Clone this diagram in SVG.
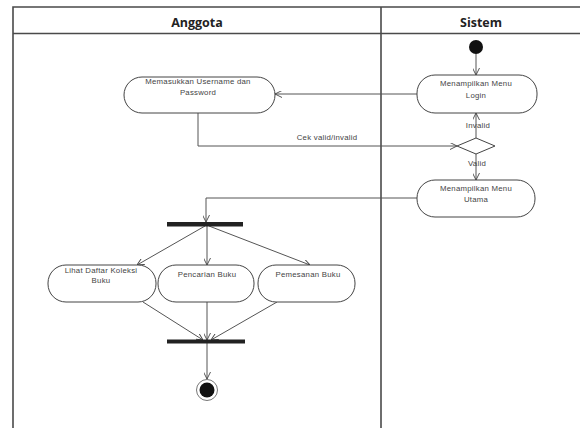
<svg xmlns="http://www.w3.org/2000/svg" width="580" height="428" viewBox="0 0 580 428">
<defs>
<style>
.frame{fill:none;stroke:#4a4a4a;stroke-width:1.6}
.hdr{font-family:"Open Sans","Liberation Sans",sans-serif;font-weight:bold;font-size:12.5px;fill:#222;text-anchor:middle}
.node{fill:#fff;stroke:#444;stroke-width:1}
.lbl{font-family:"Liberation Sans",Arial,sans-serif;font-size:7.8px;letter-spacing:0.25px;fill:#444;text-anchor:middle}
.edge{fill:none;stroke:#555;stroke-width:1}
.bar{fill:#222}
</style>
<marker id="arr" viewBox="0 0 10 10" refX="10" refY="5" markerWidth="7" markerHeight="7" orient="auto" markerUnits="userSpaceOnUse">
<path d="M0,0 L10,5 L0,10" fill="none" stroke="#444" stroke-width="1.3"/>
</marker>
</defs>
<rect width="580" height="428" fill="#fff"/>
<g id="swimlanes">
<path class="frame" d="M13,430 V7 H585"/>
<line class="frame" x1="13" y1="33.5" x2="585" y2="33.5"/>
<line class="frame" x1="381" y1="7" x2="381" y2="430"/>
<text class="hdr" x="197" y="27">Anggota</text>
<text class="hdr" x="481" y="27">Sistem</text>
</g>
<g id="connectors">
<line class="edge" x1="476" y1="54" x2="476" y2="75" marker-end="url(#arr)"/>
<line class="edge" x1="417" y1="94" x2="275" y2="94" marker-end="url(#arr)"/>
<polyline class="edge" points="198,113 198,146 457,146" marker-end="url(#arr)"/>
<line class="edge" x1="476" y1="138" x2="476" y2="113" marker-end="url(#arr)"/>
<line class="edge" x1="476" y1="154" x2="476" y2="180" marker-end="url(#arr)"/>
<polyline class="edge" points="417,198 206,198 206,222" marker-end="url(#arr)"/>
<line class="edge" x1="205" y1="226" x2="137" y2="265" marker-end="url(#arr)"/>
<line class="edge" x1="207" y1="226" x2="207" y2="265" marker-end="url(#arr)"/>
<line class="edge" x1="209" y1="226" x2="310" y2="265" marker-end="url(#arr)"/>
<line class="edge" x1="143" y1="302" x2="203" y2="340" marker-end="url(#arr)"/>
<line class="edge" x1="207" y1="302" x2="207" y2="340" marker-end="url(#arr)"/>
<line class="edge" x1="277" y1="302" x2="211" y2="340" marker-end="url(#arr)"/>
<line class="edge" x1="207" y1="343" x2="207" y2="379" marker-end="url(#arr)"/>
<text class="lbl" x="327" y="139.5">Cek valid/invalid</text>
<text class="lbl" x="478" y="127.5">Invalid</text>
<text class="lbl" x="477" y="165.5">Valid</text>
</g>
<g id="start"><circle cx="476" cy="47" r="7" fill="#111"/></g>
<g id="login">
<rect class="node" x="417" y="75" width="120" height="38" rx="18" ry="18"/>
<text class="lbl" x="476" y="86">Menampilkan Menu</text>
<text class="lbl" x="476" y="97.5">Login</text>
</g>
<g id="username">
<rect class="node" x="124" y="77" width="151" height="36" rx="18" ry="18"/>
<text class="lbl" x="198" y="84">Memasukkan Username dan</text>
<text class="lbl" x="198" y="95">Password</text>
</g>
<g id="decision">
<polygon class="node" points="457,146 476,138 495,146 476,154"/>
</g>
<g id="utama">
<rect class="node" x="417" y="180" width="118" height="37" rx="18" ry="18"/>
<text class="lbl" x="476" y="190.5">Menampilkan Menu</text>
<text class="lbl" x="476" y="201.5">Utama</text>
</g>
<g id="fork"><rect class="bar" x="167" y="222" width="76" height="4.5"/></g>
<g id="lihat">
<rect class="node" x="48" y="265" width="108" height="37" rx="18" ry="18"/>
<text class="lbl" x="101" y="273">Lihat Daftar Koleksi</text>
<text class="lbl" x="101" y="282.5">Buku</text>
</g>
<g id="pencarian">
<rect class="node" x="158" y="265" width="96" height="37" rx="18" ry="18"/>
<text class="lbl" x="207" y="277">Pencarian Buku</text>
</g>
<g id="pemesanan">
<rect class="node" x="258" y="265" width="97" height="37" rx="18" ry="18"/>
<text class="lbl" x="308" y="277">Pemesanan Buku</text>
</g>
<g id="join"><rect class="bar" x="167" y="339.5" width="78" height="4"/></g>
<g id="end">
<circle cx="207" cy="390" r="10.5" fill="#fff" stroke="#777" stroke-width="1"/>
<circle cx="207" cy="390" r="7.5" fill="#111"/>
</g>
</svg>
